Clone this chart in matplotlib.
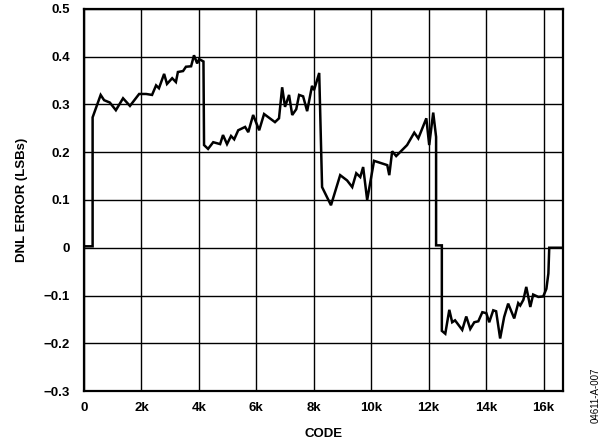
import matplotlib
matplotlib.use("Agg")
import matplotlib.pyplot as plt

# DNL error vs code
code = [0, 300, 300, 580, 700, 900, 1110, 1360, 1600, 1920, 2160, 2370, 2510, 2610,
        2790, 2890, 3070, 3200, 3270, 3450, 3550, 3730, 3830, 3940, 4010, 4160,
        4180, 4320, 4500, 4740, 4840, 4980, 5120, 5230, 5370, 5610, 5720, 5890,
        6100, 6270, 6650, 6790, 6900, 7000, 7140, 7250, 7390, 7490, 7630, 7770,
        7940, 8010, 8190, 8290, 8600, 8920, 9160, 9340, 9480, 9620, 9720, 9860,
        10100, 10560, 10630, 10730, 10870, 11250, 11500, 11640, 11920, 12020,
        12160, 12260, 12260, 12460, 12460, 12580, 12720, 12820, 12920, 13170,
        13310, 13450, 13590, 13730, 13870, 14010, 14110, 14250, 14350, 14490,
        14630, 14770, 14980, 15120, 15190, 15300, 15400, 15540, 15640, 15820,
        15990, 16100, 16170, 16200, 16680]
dnl = [0.003, 0.003, 0.273, 0.320, 0.309, 0.304, 0.288, 0.313, 0.297, 0.322, 0.322,
       0.320, 0.340, 0.334, 0.364, 0.343, 0.355, 0.347, 0.368, 0.370, 0.379, 0.380,
       0.403, 0.386, 0.395, 0.390,
       0.215, 0.207, 0.221, 0.217, 0.236, 0.217, 0.234, 0.227, 0.246, 0.253, 0.242,
       0.278, 0.246, 0.280, 0.263, 0.271, 0.336, 0.295, 0.320, 0.278, 0.290, 0.320,
       0.317, 0.286, 0.339, 0.330, 0.366, 0.127, 0.089, 0.152, 0.141, 0.127, 0.156,
       0.148, 0.169, 0.100, 0.182, 0.173, 0.152, 0.202, 0.192, 0.215, 0.241, 0.229,
       0.271, 0.215, 0.283, 0.232, 0.005, 0.005, -0.174, -0.180, -0.130, -0.156,
       -0.152, -0.172, -0.144, -0.170, -0.156, -0.154, -0.135, -0.137, -0.156,
       -0.131, -0.133, -0.190, -0.145, -0.117, -0.148, -0.116, -0.121, -0.109,
       -0.082, -0.124, -0.098, -0.103, -0.102, -0.086, -0.054, 0.0, 0.0]

xticks = [0, 2000, 4000, 6000, 8000, 10000, 12000, 14000, 16000]
xtick_labels = ["0", "2k", "4k", "6k", "8k", "10k", "12k", "14k", "16k"]
yticks = [-0.3, -0.2, -0.1, 0, 0.1, 0.2, 0.3, 0.4, 0.5]
ytick_labels = ["\u22120.3", "\u22120.2", "\u22120.1", "0", "0.1", "0.2", "0.3", "0.4", "0.5"]

plt.rcParams['font.family'] = ['Liberation Sans', 'DejaVu Sans']

fig = plt.figure(figsize=(6.1, 4.48), dpi=100)
ax = fig.add_axes([0.1377, 0.1272, 0.7853, 0.8528])
ax.plot(code, dnl, color="black", linewidth=1.8, solid_joinstyle="miter")

ax.set_xlim(0, 16680)
ax.set_ylim(-0.3, 0.5)
ax.set_xticks(xticks)
ax.set_xticklabels(xtick_labels, fontsize=9.5, fontweight="bold")
ax.set_yticks(yticks)
ax.set_yticklabels(ytick_labels, fontsize=9.5, fontweight="bold")
ax.tick_params(axis="y", length=0, pad=10)
ax.tick_params(axis="x", length=0, pad=8)
ax.grid(True, color="black", linewidth=1.0)
for s in ax.spines.values():
    s.set_linewidth(1.6)

ax.set_xlabel("CODE", fontsize=9.5, fontweight="bold", labelpad=10)
ax.set_ylabel("DNL ERROR (LSBs)", fontsize=9.5, fontweight="bold", labelpad=11)

fig.text(0.977, 0.055, "04611-A-007", rotation=90, fontsize=7, ha="center", va="bottom")

fig.savefig("out.png", dpi=100)
